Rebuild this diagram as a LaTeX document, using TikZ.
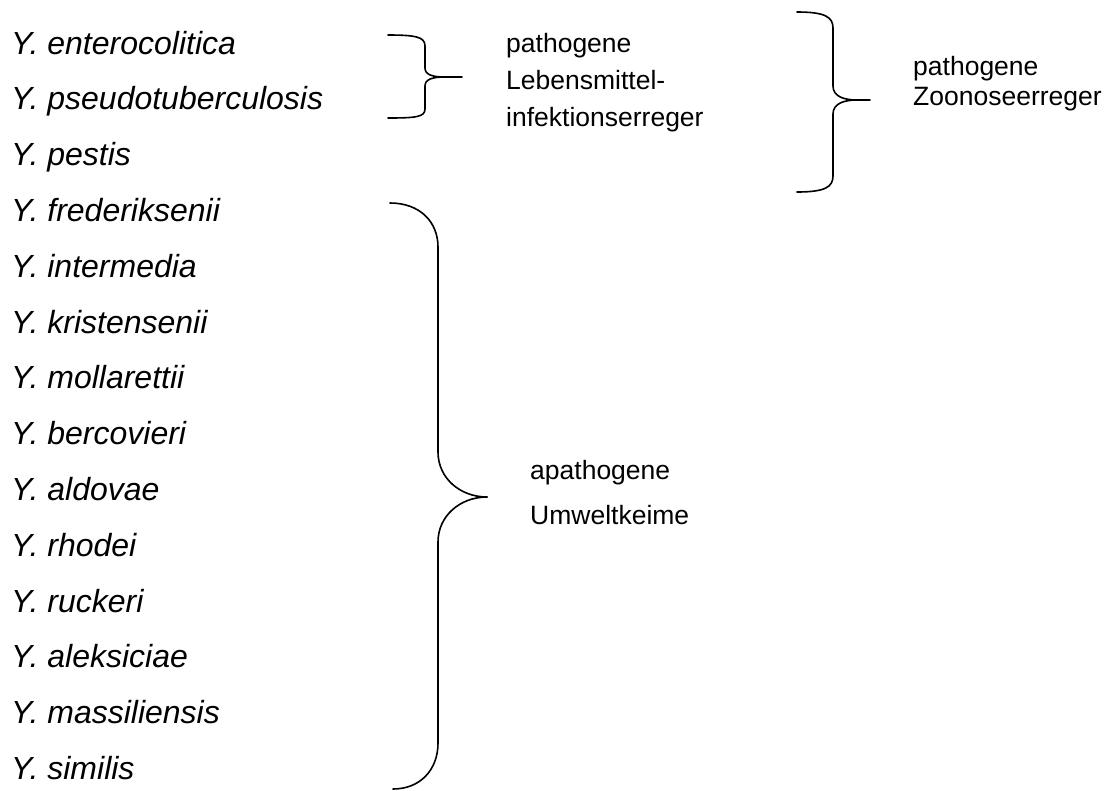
\documentclass[tikz,border=0pt]{standalone}
\usepackage{fontspec}
\setmainfont{Liberation Sans}

\tikzset{
	spec/.style={draw=none, anchor=base west, inner sep=0pt, font=\fontsize{32}{36}\selectfont\itshape},
	txt/.style={draw=none, anchor=base west, inner sep=0pt, font=\fontsize{26.5}{30}\selectfont},
	brace/.style={line width=1.6pt, line cap=round, line join=round}
}

\begin{document}
\begin{tikzpicture}[x=1pt, y=-1pt]
\useasboundingbox (0,0) rectangle (1114,790);

% species list
\foreach \name [count=\i from 0] in {enterocolitica, pseudotuberculosis, pestis, frederiksenii, intermedia, kristensenii, mollarettii, bercovieri, aldovae, rhodei, ruckeri, aleksiciae, massiliensis, similis}
{
	\path (11,54+55.8*\i) node[spec] (y\i) {Y. \name};
}

% food infection brace
\coordinate (lmtop) at (388,35);
\coordinate (lmtip) at (462,77);
\coordinate (lmbot) at (388,118);
\draw[brace] (lmtop) .. controls (416,35) and (425,37) .. (425,46) -- (425,68)
	.. controls (425,75) and (433,77) .. (445,77) -- (lmtip);
\draw[brace] (445,77) .. controls (433,77) and (425,79) .. (425,86) -- (425,109)
	.. controls (425,117) and (416,118) .. (lmbot);
\path (506,52) node[txt] (lm1) {pathogene};
\path (506,89) node[txt] (lm2) {Lebensmittel-};
\path (506,126) node[txt] (lm3) {infektionserreger};

% zoonosis brace
\coordinate (zotop) at (797,12);
\coordinate (zotip) at (870,100);
\coordinate (zobot) at (797,192);
\draw[brace] (zotop) .. controls (825,12) and (833,17) .. (833,28) -- (833,86)
	.. controls (833,97) and (845,100) .. (857,100) -- (zotip);
\draw[brace] (857,100) .. controls (845,100) and (833,103) .. (833,114) -- (833,176)
	.. controls (833,187) and (825,192) .. (zobot);
\path (913,75) node[txt] (zo1) {pathogene};
\path (913,105) node[txt] (zo2) {Zoonoseerreger};

% environment brace
\coordinate (uwtop) at (390,203);
\coordinate (uwtip) at (487,497);
\coordinate (uwbot) at (393,789);
\draw[brace] (uwtop) .. controls (420,203) and (438,222) .. (438,247) -- (438,452)
	.. controls (438,478) and (460,497) .. (uwtip);
\draw[brace] (uwtip) .. controls (460,497) and (438,516) .. (438,542) -- (438,743)
	.. controls (438,770) and (420,789) .. (uwbot);
\path (530,479) node[txt] (uw1) {apathogene};
\path (530,524) node[txt] (uw2) {Umweltkeime};

\end{tikzpicture}
\end{document}
